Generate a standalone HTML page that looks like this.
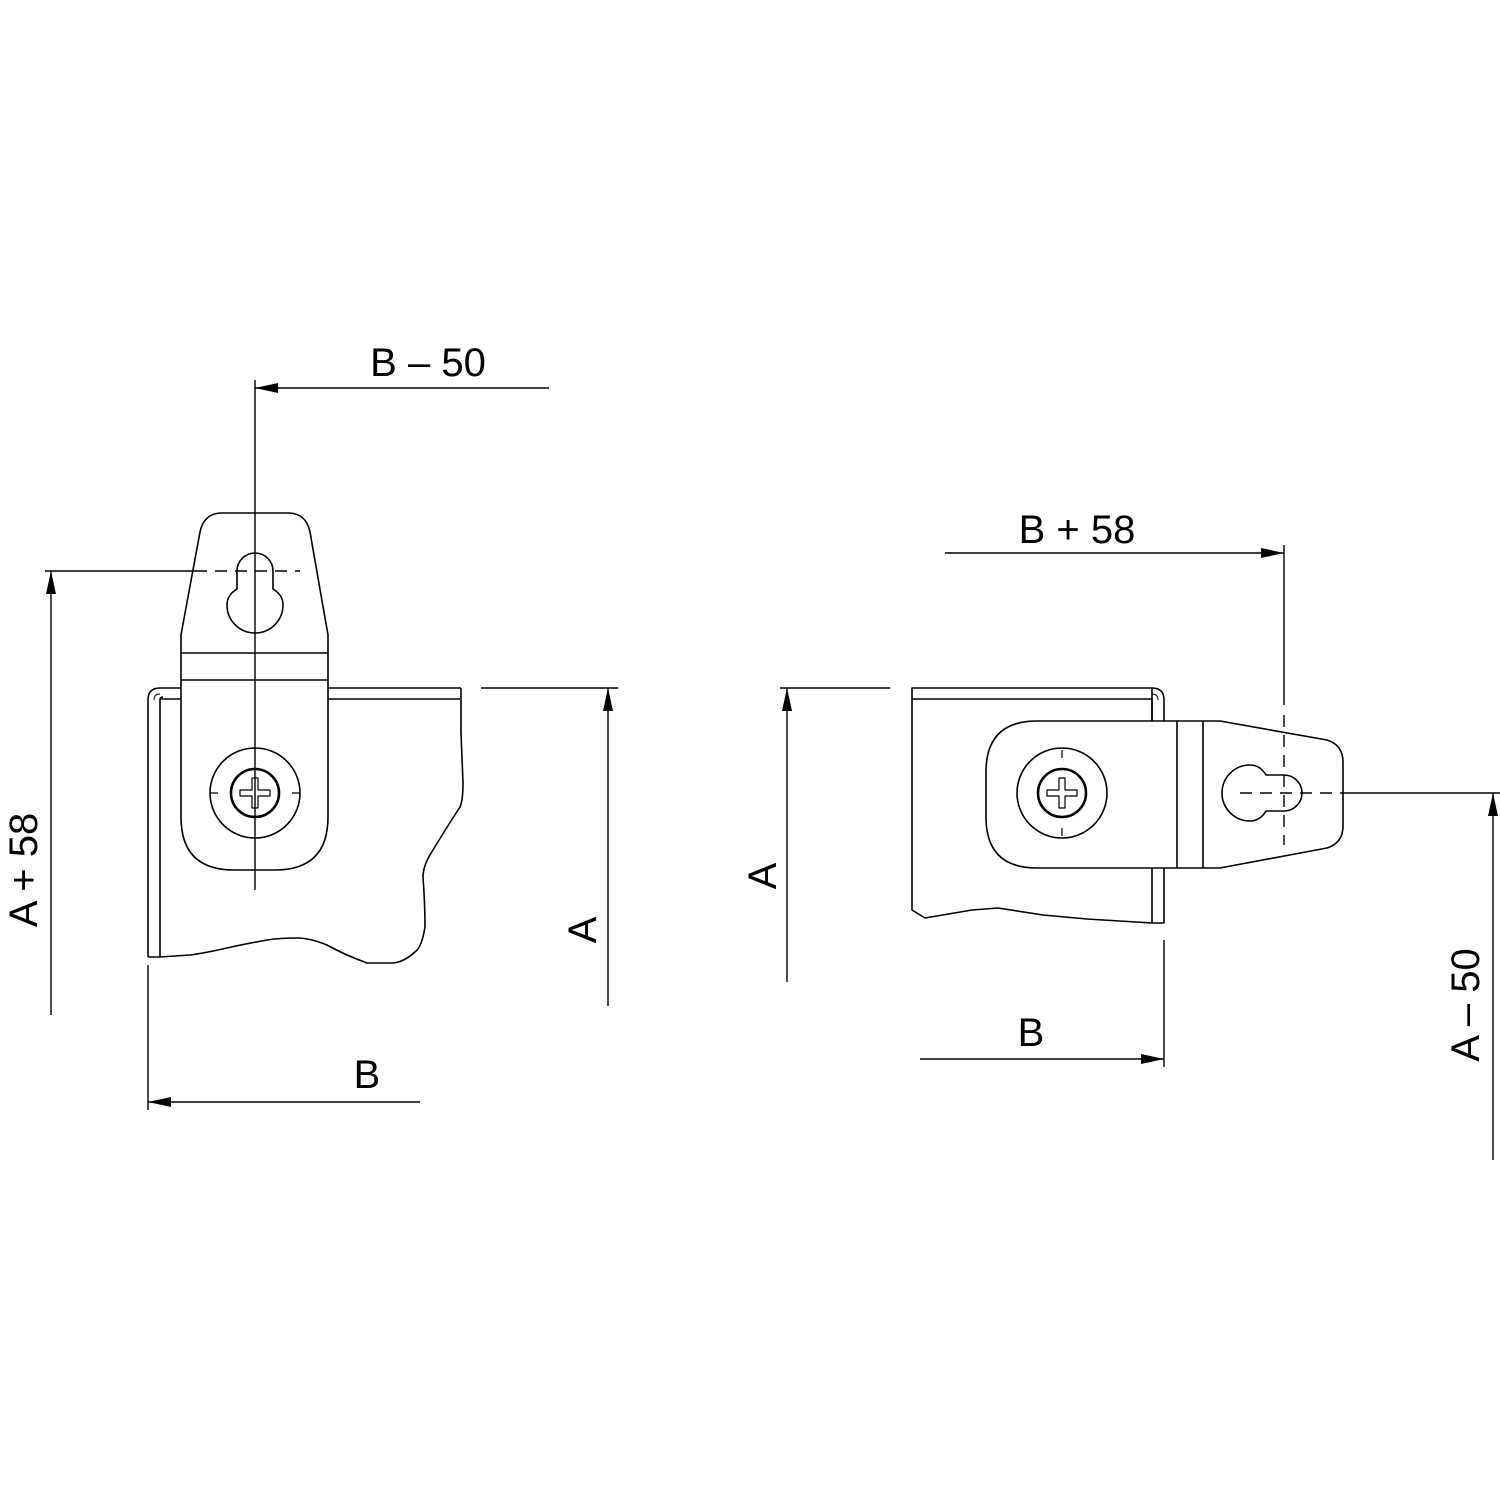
<!DOCTYPE html>
<html><head><meta charset="utf-8"><style>html,body{margin:0;padding:0;background:#fff}svg{display:block}</style></head>
<body>
<svg width="1500" height="1500" viewBox="0 0 1500 1500" xmlns="http://www.w3.org/2000/svg" font-family="Liberation Sans, Arial, sans-serif">
<g fill="none" stroke="#000" stroke-width="1.6" stroke-linejoin="round">
<!-- LEFT PANEL -->
<path d="M148,957 L148,700 Q148,688 160,688 L181,688"/>
<path d="M160,957 L160,700 Q160,697 163,697"/>
<path d="M154,700 Q154,694 160,694" stroke-width="1"/>
<path d="M160,699 L181,699"/>
<path d="M328,688 L461,688 M328,699 L460,699"/>
<path d="M461,688 L461,733 Q462,760 463,783 Q463,800 460,807 Q445,830 433,850 Q423,865 423,877 Q425,905 425,927 Q422,945 417,950 Q405,962 393,963 L367,963 Q345,955 327,945 Q310,938 297,938 Q280,938 267,940 Q245,944 227,948 Q205,953 190,955 L160,957 L148,957"/>
<!-- LEFT TAB -->
<path d="M181,635 L200,532 Q204,513 222,513 L288,513 Q306,513 310,532 L328,635 L328,817 Q328,870 275,870 L234,870 Q181,870 181,817 Z"/>
<path d="M181,653 L328,653 M181,680 L328,680"/>
<path d="M237,589 L237,571 A18,18 0 0 1 273,571 L273,589 Q283,595 283,605 A28,28 0 0 1 227,605 Q227,595 237,589 Z"/>
<circle cx="255" cy="793" r="45"/>
<circle cx="255" cy="793" r="24" stroke-width="2.6"/>
<path d="M252,778 L258,778 L258,790 L270,790 L270,796 L258,796 L258,808 L252,808 L252,796 L240,796 L240,790 L252,790 Z" stroke-width="1.2"/>
<path d="M210,793 L218,793 M292,793 L300,793" stroke-width="1.2"/>

<!-- RIGHT PANEL -->
<path d="M1152,721 L1152,688 L912,688 L912,910 L925,918 L972,910 L998,908 L1043,915 L1087,919 L1152,923 L1164,923 L1164,868"/>
<path d="M912,699 L1152,699 M1152,699 L1152,721"/>
<path d="M1152,688 Q1164,688 1164,700 L1164,721"/>
<path d="M1152,694 Q1158,694 1158,700" stroke-width="1"/>
<path d="M1152,868 L1152,923"/>
<!-- RIGHT TAB -->
<path d="M1037,721 L1220,721 L1327,740 Q1343,745 1343,762 L1343,826 Q1343,843 1327,848 L1220,868 L1037,868 Q986,868 986,817 L986,772 Q986,721 1037,721 Z"/>
<path d="M1177,721 L1177,868 M1203,721 L1203,868"/>
<path d="M1266,775 L1284,775 A18,18 0 0 1 1284,811 L1266,811 Q1260,821 1250,821 A28,28 0 0 1 1250,765 Q1260,765 1266,775 Z"/>
<circle cx="1062" cy="793" r="45"/>
<circle cx="1062" cy="793" r="24" stroke-width="2.6"/>
<path d="M1059,778 L1065,778 L1065,790 L1077,790 L1077,796 L1065,796 L1065,808 L1059,808 L1059,796 L1047,796 L1047,790 L1059,790 Z" stroke-width="1.2"/>
<path d="M1062,750 L1062,758 M1062,828 L1062,836" stroke-width="1.2"/>
</g>

<g fill="none" stroke="#000" stroke-width="1.4">
<path d="M255,380 L255,890"/>
<path d="M255,388 L549,388"/>
<path d="M45,571 L195,571"/>
<path d="M195,571 L300,571" stroke-dasharray="12,8"/>
<path d="M51,571 L51,1015"/>
<path d="M481,688 L618,688 M608,688 L608,1006"/>
<path d="M148,965 L148,1110 M148,1102 L420,1102"/>
<path d="M1284,545 L1284,705"/>
<path d="M1284,715 L1284,845" stroke-dasharray="12,8"/>
<path d="M1240,793 L1345,793" stroke-dasharray="12,8"/>
<path d="M1345,793 L1500,793"/>
<path d="M945,553 L1284,553"/>
<path d="M780,688 L890,688 M787,688 L787,982"/>
<path d="M1493,793 L1493,1160"/>
<path d="M1164,940 L1164,1067 M920,1059 L1164,1059"/>
</g>

<g fill="#000">
<path d="M255,388 L278,383 L278,393 Z"/>
<path d="M51,571 L46,594 L56,594 Z"/>
<path d="M608,688 L603,711 L613,711 Z"/>
<path d="M148,1102 L171,1097 L171,1107 Z"/>
<path d="M1284,553 L1261,548 L1261,558 Z"/>
<path d="M787,688 L782,711 L792,711 Z"/>
<path d="M1493,793 L1488,816 L1498,816 Z"/>
<path d="M1164,1059 L1141,1054 L1141,1064 Z"/>
</g>

<g font-size="40" fill="#000" text-anchor="middle">
<text x="428" y="376">B – 50</text>
<text x="367" y="1088">B</text>
<text x="1077" y="543">B + 58</text>
<text x="1031" y="1046">B</text>
<text transform="translate(37,870) rotate(-90)">A + 58</text>
<text transform="translate(596,930) rotate(-90)">A</text>
<text transform="translate(776,876) rotate(-90)">A</text>
<text transform="translate(1479,1005) rotate(-90)">A – 50</text>
</g>
</svg>
</body></html>
